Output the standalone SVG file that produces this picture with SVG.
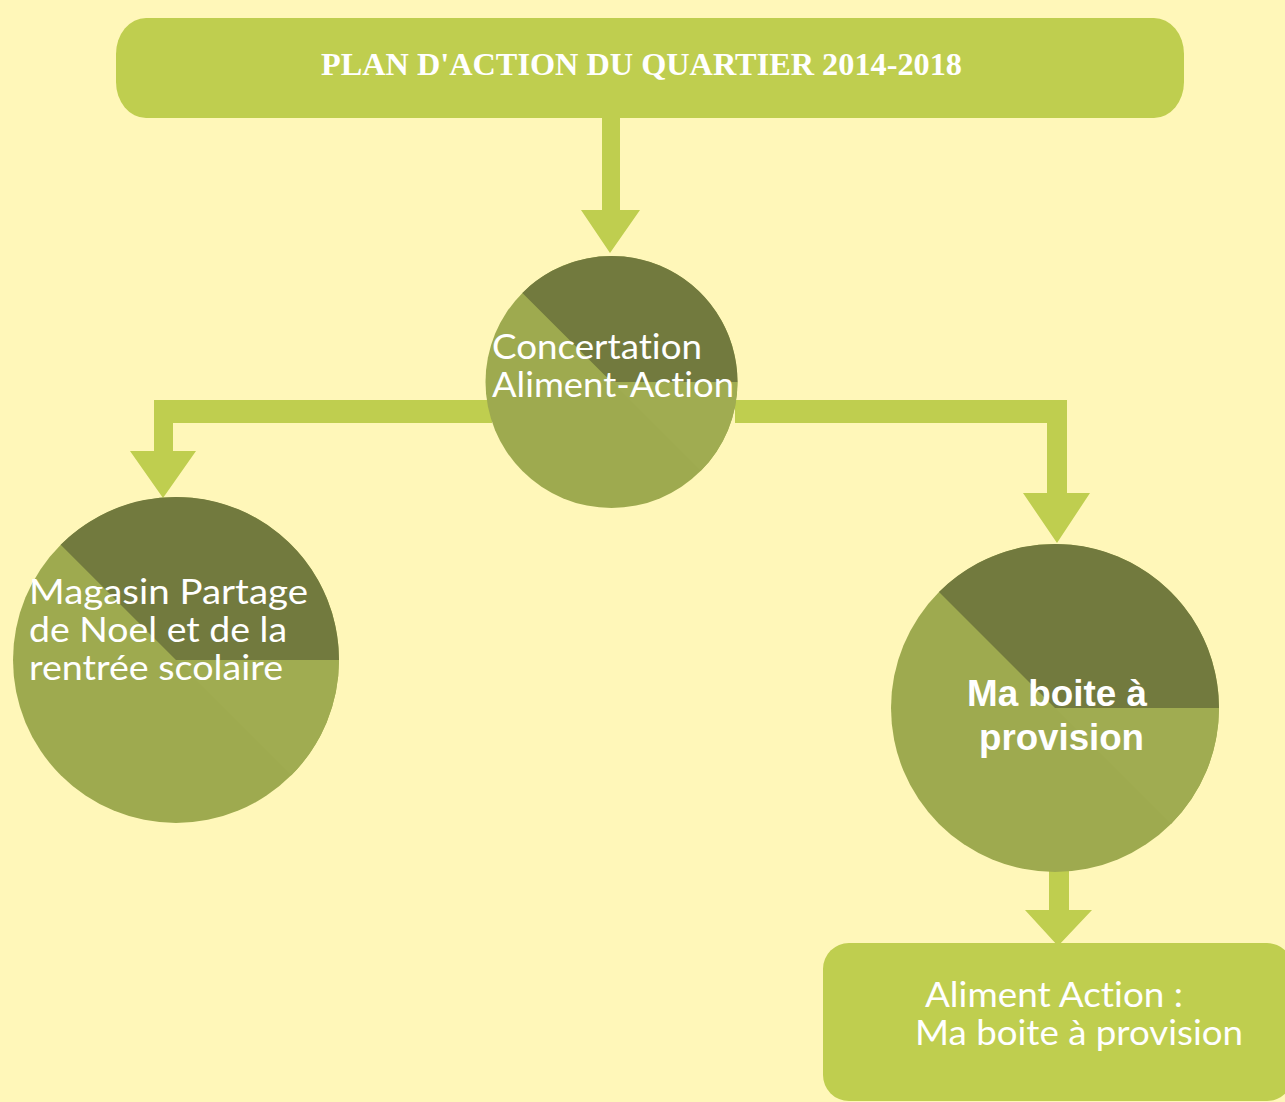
<svg xmlns="http://www.w3.org/2000/svg" width="1285" height="1102" viewBox="0 0 1285 1102">
<style>
.bg{fill:#FFF7B9}
.conn{fill:#BFCE4F}
.box{fill:#BFCE4F}
.light{fill:#9EAA4F}
.light2{fill:#A0AC51}
.dark{fill:#727A3E}
.t{fill:#FFFFFF;font-family:Lato,"Open Sans","Noto Sans",sans-serif;font-size:34px;font-variant-ligatures:none;font-feature-settings:"liga" 0}
.tb{fill:#FFFFFF;font-family:"Liberation Sans",Arial,sans-serif;font-size:37px;font-weight:bold}
.title{fill:#FFFFFF;font-family:"Liberation Serif","Times New Roman",serif;font-size:32px;font-weight:bold}
</style>
<rect class="bg" x="0" y="0" width="1285" height="1102"/>
<g id="connectors">
<polygon class="conn" points="602,116 620,116 620,210 640,210 610,253 581,210 602,210"/>
<polygon class="conn" points="492,400 154,400 154,451 130,451 163,498 196,451 173,451 173,423 492,423"/>
<polygon class="conn" points="735,400 1067,400 1067,493 1090,493 1057,543 1023,493 1047,493 1047,423 735,423"/>
<polygon class="conn" points="1049,870 1069,870 1069,910 1092,910 1058,946 1025,910 1049,910"/>
</g>
<g id="title">
<rect class="box" x="116" y="18" width="1068" height="100" rx="30" ry="36"/>
<text class="title" x="321" y="75" textLength="641" lengthAdjust="spacingAndGlyphs">PLAN D'ACTION DU QUARTIER 2014-2018</text>
</g>
<g id="concertation">
<circle class="light" cx="611.5" cy="382" r="126"/>
<path class="light2" d="M611.5,382 L737.5,382 A126,126 0 0 1 700.6,471.1 Z"/>
<path class="dark" d="M611.5,382 L522.4,292.9 A126,126 0 0 1 737.5,382 Z"/>
<text class="t" x="492" y="359" textLength="210" lengthAdjust="spacingAndGlyphs">Concertation</text>
<text class="t" x="492" y="397" textLength="242" lengthAdjust="spacingAndGlyphs">Aliment-Action</text>
</g>
<g id="magasin">
<circle class="light" cx="176" cy="660" r="163"/>
<path class="light2" d="M176,660 L339,660 A163,163 0 0 1 291.3,775.3 Z"/>
<path class="dark" d="M176,660 L60.7,544.7 A163,163 0 0 1 339,660 Z"/>
<text class="t" x="29" y="604" textLength="279" lengthAdjust="spacingAndGlyphs">Magasin Partage</text>
<text class="t" x="29" y="642" textLength="258" lengthAdjust="spacingAndGlyphs">de Noel et de la</text>
<text class="t" x="29" y="680" textLength="254" lengthAdjust="spacingAndGlyphs">rentrée scolaire</text>
</g>
<g id="maboite">
<circle class="light" cx="1055" cy="708" r="164"/>
<path class="light2" d="M1055,708 L1219,708 A164,164 0 0 1 1171,824 Z"/>
<path class="dark" d="M1055,708 L939,592 A164,164 0 0 1 1219,708 Z"/>
<text class="tb" x="967" y="706" textLength="180" lengthAdjust="spacingAndGlyphs">Ma boite à</text>
<text class="tb" x="979" y="750" textLength="165" lengthAdjust="spacingAndGlyphs">provision</text>
</g>
<g id="aliment">
<rect class="box" x="823" y="943" width="470" height="158" rx="26" ry="26"/>
<text class="t" x="925" y="1007" textLength="258" lengthAdjust="spacingAndGlyphs">Aliment Action :</text>
<text class="t" x="915" y="1045" textLength="328" lengthAdjust="spacingAndGlyphs">Ma boite à provision</text>
</g>
</svg>
